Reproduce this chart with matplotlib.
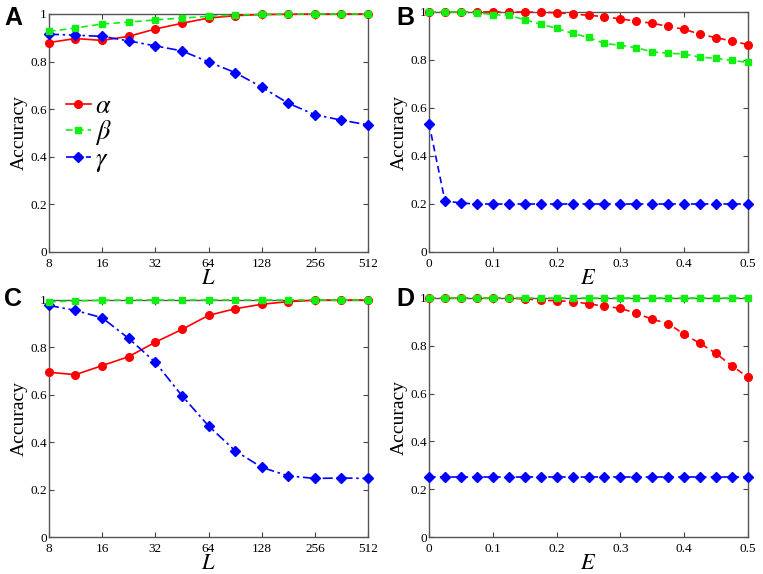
import matplotlib
matplotlib.use('Agg')
import matplotlib.pyplot as plt

plt.rcParams['font.family'] = ['Liberation Serif', 'DejaVu Serif']
plt.rcParams['mathtext.fontset'] = 'stix'

# sample grids
L_vals = [8, 11.3, 16, 22.6, 32, 45.3, 64, 90.5, 128, 181, 256, 362, 512]
E_vals = [0, 0.025, 0.05, 0.075, 0.1, 0.125, 0.15, 0.175, 0.2, 0.225, 0.25,
          0.275, 0.3, 0.325, 0.35, 0.375, 0.4, 0.425, 0.45, 0.475, 0.5]

# panel A (accuracy vs L)
a_alpha = [0.880, 0.897, 0.889, 0.906, 0.937, 0.961, 0.983, 0.993, 0.998, 0.999, 1.0, 1.0, 1.0]
a_beta = [0.927, 0.941, 0.958, 0.966, 0.975, 0.983, 0.990, 0.996, 0.998, 1.0, 1.0, 1.0, 1.0]
a_gamma = [0.915, 0.911, 0.906, 0.887, 0.866, 0.845, 0.799, 0.754, 0.693, 0.625, 0.577, 0.554, 0.534]

# panel B (accuracy vs E)
b_alpha = [1.0, 1.0, 1.0, 1.0, 1.0, 1.0, 1.0, 0.999, 0.997, 0.992, 0.986,
           0.981, 0.971, 0.962, 0.953, 0.940, 0.928, 0.907, 0.893, 0.879, 0.864]
b_beta = [1.0, 1.0, 1.0, 0.997, 0.989, 0.986, 0.968, 0.949, 0.932, 0.911, 0.894,
          0.869, 0.861, 0.851, 0.834, 0.828, 0.825, 0.812, 0.807, 0.798, 0.790]
b_gamma = [0.535, 0.213, 0.204, 0.200, 0.200, 0.200, 0.200, 0.200, 0.200, 0.200, 0.200,
           0.200, 0.200, 0.200, 0.200, 0.200, 0.200, 0.200, 0.200, 0.200, 0.200]

# panel C (accuracy vs L)
c_alpha = [0.695, 0.685, 0.723, 0.761, 0.822, 0.876, 0.935, 0.963, 0.982, 0.993, 0.999, 1.0, 1.0]
c_beta = [0.992, 0.996, 0.999, 1.0, 1.0, 1.0, 1.0, 1.0, 1.0, 1.0, 1.0, 1.0, 1.0]
c_gamma = [0.977, 0.956, 0.925, 0.838, 0.737, 0.596, 0.469, 0.364, 0.294, 0.258, 0.247, 0.249, 0.247]

# panel D (accuracy vs E)
d_alpha = [1.0, 1.0, 1.0, 1.0, 1.0, 0.999, 0.997, 0.990, 0.989, 0.985, 0.976,
           0.965, 0.957, 0.936, 0.911, 0.893, 0.848, 0.810, 0.768, 0.715, 0.669]
d_beta = [1.0] * 21
d_gamma = [0.25] * 21

L_ticks = [8, 16, 32, 64, 128, 256, 512]
E_ticks = [0, 0.1, 0.2, 0.3, 0.4, 0.5]
y_ticks = [0, 0.2, 0.4, 0.6, 0.8, 1]
y_labels = ['0', '0.2', '0.4', '0.6', '0.8', '1']

RED = '#ff0000'
GREEN = '#11ee11'
BLUE = '#0000ff'
dashed = (0, (4, 2.5))
dashdot = (0, (6, 2.2, 1.5, 2.2))

W, H = 763, 574
fig = plt.figure(figsize=(W / 100, H / 100), dpi=100)


def make_ax(left, top, right, bottom):
    return fig.add_axes([left / W, 1 - bottom / H, (right - left) / W, (bottom - top) / H])


def style(ax, xl):
    ax.set_ylim(0, 1.0)
    ax.set_yticks(y_ticks)
    ax.set_yticklabels(y_labels)
    ax.tick_params(direction='in', length=3.5, width=0.8, top=True, right=True,
                   labelsize=9.5, color='#444444')
    ax.tick_params(axis='x', pad=4)
    ax.tick_params(axis='y', pad=1.5)
    ax.tick_params(which='minor', length=0)
    for s in ax.spines.values():
        s.set_color('#555555')
        s.set_linewidth(1.0)
    ax.set_ylabel('Accuracy', fontsize=14, labelpad=2)
    ax.set_xlabel(xl, fontsize=16, labelpad=0)


def plot_L(ax, al, be, ga, legend=False):
    ax.set_xscale('log', base=2)
    l1, = ax.plot(L_vals, al, color=RED, ls='-', lw=1.2, marker='o', ms=5.5, label=r'$\alpha$', clip_on=False, zorder=3)
    l2, = ax.plot(L_vals, be, color=GREEN, ls=dashed, lw=1.2, marker='s', ms=4.5, label=r'$\beta$', clip_on=False, zorder=4)
    l3, = ax.plot(L_vals, ga, color=BLUE, ls=dashdot, lw=1.2, marker='D', ms=5, label=r'$\gamma$', clip_on=False, zorder=3)
    ax.set_xlim(8, 512)
    ax.set_xticks(L_ticks)
    ax.set_xticklabels([str(t) for t in L_ticks])
    style(ax, r'$L$')
    if legend:
        ax.legend(handles=[l1, l2, l3], loc='upper left', bbox_to_anchor=(-0.005, 0.74),
                  frameon=False, fontsize=19, handlelength=0.95, handletextpad=0.15,
                  labelspacing=0.02, borderaxespad=0.3)


def plot_E(ax, al, be, ga):
    ax.plot(E_vals, al, color=RED, ls=dashed, lw=1.2, marker='o', ms=5.5, clip_on=False, zorder=3)
    ax.plot(E_vals, be, color=GREEN, ls=dashed, lw=1.2, marker='s', ms=4.5, clip_on=False, zorder=4)
    ax.plot(E_vals, ga, color=BLUE, ls=dashed, lw=1.2, marker='D', ms=5, clip_on=False, zorder=3)
    ax.set_xlim(0, 0.5)
    ax.set_xticks(E_ticks)
    ax.set_xticklabels(['0', '0.1', '0.2', '0.3', '0.4', '0.5'])
    style(ax, r'$E$')


axA = make_ax(49, 14, 368, 252)
axB = make_ax(429, 12, 748, 252)
axC = make_ax(49, 300, 368, 537)
axD = make_ax(429, 298, 748, 537)

plot_L(axA, a_alpha, a_beta, a_gamma, legend=True)
plot_E(axB, b_alpha, b_beta, b_gamma)
plot_L(axC, c_alpha, c_beta, c_gamma)
plot_E(axD, d_alpha, d_beta, d_gamma)

for lab, x, y in [('A', 4, 18), ('B', 396, 18), ('C', 4, 299), ('D', 396, 299)]:
    fig.text(x / W, 1 - y / H, lab, fontsize=18, fontweight='bold',
             family='Liberation Sans', va='center', ha='left')

fig.savefig('out.png', dpi=100)
